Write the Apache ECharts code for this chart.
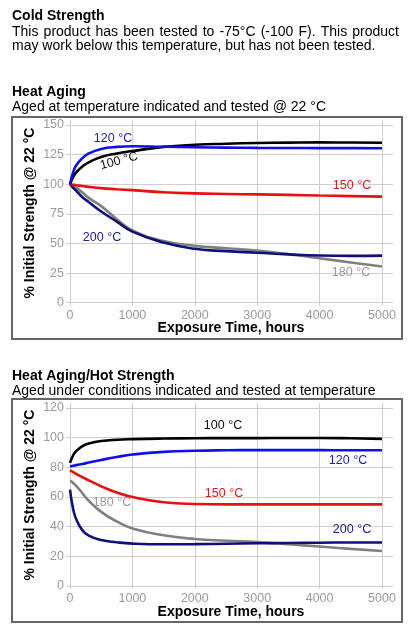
<!DOCTYPE html>
<html><head><meta charset="utf-8">
<script src="https://cdn.jsdelivr.net/npm/echarts@6/dist/echarts.min.js"></script>
<style>html,body{margin:0;padding:0;background:#fff}#c{width:416px;height:632px}</style>
</head><body><div id="c"></div>
<script>
// ---------- data ----------
const hours = [0, 50, 100, 200, 300, 500, 750, 1000, 1500, 2000, 2500, 3000, 3500, 4000, 4500, 5000];
const xTicks = [0, 1000, 2000, 3000, 4000, 5000];

// Heat Aging (tested @ 22 °C)
const aging100 = [100, 106, 110, 115, 118.5, 123, 126, 128, 131.5, 133.3, 134.2, 134.8, 135.1, 135.3, 135.2, 135];
const aging120 = [100, 110, 116, 122, 126, 129.8, 131.5, 132, 131.6, 131.2, 130.9, 130.7, 130.6, 130.5, 130.5, 130.4];
const aging150 = [100, 99.6, 99.2, 98.5, 97.8, 96.7, 95.8, 95, 93.2, 92.3, 91.8, 91.4, 91, 90.5, 90, 89.5];
const aging180 = [100, 98.5, 97, 93, 88.5, 81.5, 70.5, 61, 52, 48, 46, 44, 41, 37.5, 34, 30.5];
const aging200 = [100, 97, 94.5, 89, 85, 77, 68.5, 60, 50.8, 45.5, 43.5, 42.2, 40.8, 39.8, 39.5, 39.7];
const agingTicks = [0, 25, 50, 75, 100, 125, 150];

// Heat Aging / Hot Strength (tested at temperature)
const hot100 = [83, 88, 91, 94.3, 96, 97.7, 98.6, 99, 99.4, 99.6, 99.7, 99.7, 99.8, 99.8, 99.6, 99.2];
const hot120 = [80.5, 81, 81.5, 82.3, 83.2, 85, 87, 88.6, 90.4, 91.2, 91.5, 91.6, 91.6, 91.6, 91.5, 91.5];
const hot150 = [78, 76.8, 75.6, 73.3, 71.2, 67.2, 63, 60, 56.5, 55.3, 55, 55, 55, 55, 55, 55];
const hot180 = [71, 69.5, 67.5, 62.5, 57.5, 50, 43.5, 38.8, 34.2, 31.7, 30.5, 29.6, 28.2, 26.6, 25, 23.6];
const hot200 = [65, 52, 45, 37.5, 34, 31, 29.5, 28.6, 28.1, 28.2, 28.5, 28.8, 29, 29.2, 29.3, 29.3];
const hotTicks = [0, 20, 40, 60, 80, 100, 120];

const seriesNames = ['100 °C', '120 °C', '150 °C', '180 °C', '200 °C'];
// ---------- style ----------
const FONT = "'Liberation Sans', Arial, Helvetica, sans-serif";
const lineColors = ['#000000', '#1010e8', '#e81010', '#808080', '#10107a'];
const labelColors = ['#111111', '#2020c0', '#d02020', '#999999', '#20208a'];
const gridCol = '#cfcfcf';
const tickCol = '#9a9a9a';

const chart = echarts.init(document.getElementById('c'), null, {renderer: 'canvas'});

function pairs(vals) { return hours.map((h, i) => [h, vals[i]]); }

const P = [
  {top: 125, height: 177.7, ticks: agingTicks, data: [aging100, aging120, aging150, aging180, aging200]},
  {top: 408, height: 178, ticks: hotTicks, data: [hot100, hot120, hot150, hot180, hot200]}
];
const L = 70, W = 312;

const grid = [], xAxis = [], yAxis = [], series = [];
P.forEach((p, k) => {
  const ymax = p.ticks[p.ticks.length - 1], step = p.ticks[1] - p.ticks[0];
  const g0 = grid.length;
  grid.push({left: L, top: p.top, width: W, height: p.height});
  grid.push({left: L, top: p.top, width: W + 11, height: p.height});
  grid.push({left: L, top: p.top - 5, width: W, height: p.height + 5});
  xAxis.push({gridIndex: g0, type: 'value', min: 0, max: 5000, show: false});
  yAxis.push({gridIndex: g0, type: 'value', min: 0, max: ymax, show: false});
  xAxis.push({gridIndex: g0 + 1, type: 'value', min: 0, max: 1, show: false});
  yAxis.push({gridIndex: g0 + 1, type: 'value', min: 0, max: ymax, interval: step,
    axisLine: {show: false}, axisTick: {show: true, length: 4, lineStyle: {color: gridCol}},
    splitLine: {show: true, lineStyle: {color: gridCol, width: 1}},
    axisLabel: {color: tickCol, fontFamily: FONT, fontSize: 12.5, margin: 6}});
  xAxis.push({gridIndex: g0 + 2, type: 'value', min: 0, max: 5000, interval: 1000,
    axisLine: {show: false}, axisTick: {show: true, length: 3, lineStyle: {color: gridCol}},
    splitLine: {show: true, lineStyle: {color: gridCol, width: 1}},
    axisLabel: {color: tickCol, fontFamily: FONT, fontSize: 12.5, margin: 6,
      formatter: v => xTicks.indexOf(v) >= 0 ? String(v) : ''}});
  yAxis.push({gridIndex: g0 + 2, type: 'value', min: 0, max: 1, show: false});
  const order = [3, 4, 2, 0, 1];
  order.forEach(i => {
    series.push({type: 'line', name: seriesNames[i], xAxisIndex: g0, yAxisIndex: g0,
      data: pairs(p.data[i]), smooth: 0.5, symbol: 'none',
      lineStyle: {color: lineColors[i], width: 2.6}, silent: true, animation: false});
  });
});

// ---------- text ----------
function txt(s, x, y, o) {
  o = o || {};
  return {type: 'text', x: x, y: y, rotation: o.rot || 0, silent: true, z: 100,
    style: {text: s, fill: o.color || '#000', font: (o.weight || 'normal') + ' ' + (o.size || 14) + 'px ' + FONT,
      textAlign: o.align || 'left', textVerticalAlign: 'middle', align: o.align || 'left', verticalAlign: 'middle'}};
}
const graphics = [];
function justified(line, x0, x1, y, size) {
  const ctx = document.createElement('canvas').getContext('2d');
  ctx.font = size + 'px ' + FONT;
  const words = line.split(' ');
  const tot = words.reduce((a, w) => a + ctx.measureText(w).width, 0);
  const gap = (x1 - x0 - tot) / (words.length - 1);
  let x = x0;
  words.forEach(w => { graphics.push(txt(w, x, y, {size: size})); x += ctx.measureText(w).width + gap; });
}
graphics.push(txt('Cold Strength', 12, 16, {weight: 'bold', size: 14}));
justified('This product has been tested to -75°C (-100 F). This product', 12, 399, 32, 14);
graphics.push(txt('may work below this temperature, but has not been tested.', 12, 46.5, {size: 14}));
graphics.push(txt('Heat Aging', 12, 92, {weight: 'bold', size: 14}));
graphics.push(txt('Aged at temperature indicated and tested @ 22 °C', 12, 107.5, {size: 14}));
graphics.push(txt('Heat Aging/Hot Strength', 12, 376, {weight: 'bold', size: 14}));
graphics.push(txt('Aged under conditions indicated and tested at temperature', 12, 391, {size: 14}));

graphics.push({type: 'rect', shape: {x: 12, y: 117, width: 390, height: 222}, silent: true, z: 90,
  style: {fill: 'none', stroke: '#666', lineWidth: 2}});
graphics.push({type: 'rect', shape: {x: 12, y: 399, width: 390, height: 223}, silent: true, z: 90,
  style: {fill: 'none', stroke: '#666', lineWidth: 2}});

graphics.push(txt('% Initial Strength @ 22 °C', 30, 213, {weight: 'bold', size: 14, align: 'center', rot: Math.PI / 2}));
graphics.push(txt('Exposure Time, hours', 231, 328, {weight: 'bold', size: 14, align: 'center'}));
graphics.push(txt('% Initial Strength @ 22 °C', 30, 495, {weight: 'bold', size: 14, align: 'center', rot: Math.PI / 2}));
graphics.push(txt('Exposure Time, hours', 231, 612, {weight: 'bold', size: 14, align: 'center'}));

graphics.push(txt(seriesNames[1], 113, 139, {color: labelColors[1], size: 12.5, align: 'center'}));
graphics.push(txt(seriesNames[0], 119, 161, {color: labelColors[0], size: 12.5, align: 'center', rot: 15 * Math.PI / 180}));
graphics.push(txt(seriesNames[2], 352, 186, {color: labelColors[2], size: 12.5, align: 'center'}));
graphics.push(txt(seriesNames[4], 102, 237.5, {color: labelColors[4], size: 12.5, align: 'center'}));
graphics.push(txt(seriesNames[3], 351, 272.5, {color: labelColors[3], size: 12.5, align: 'center'}));
graphics.push(txt(seriesNames[0], 223, 426, {color: labelColors[0], size: 12.5, align: 'center'}));
graphics.push(txt(seriesNames[1], 348, 461, {color: labelColors[1], size: 12.5, align: 'center'}));
graphics.push(txt(seriesNames[2], 224, 494, {color: labelColors[2], size: 12.5, align: 'center'}));
graphics.push(txt(seriesNames[3], 112, 503, {color: labelColors[3], size: 12.5, align: 'center'}));
graphics.push(txt(seriesNames[4], 352, 529.5, {color: labelColors[4], size: 12.5, align: 'center'}));

chart.setOption({animation: false, grid: grid, xAxis: xAxis, yAxis: yAxis, series: series, graphic: graphics});
</script></body></html>
